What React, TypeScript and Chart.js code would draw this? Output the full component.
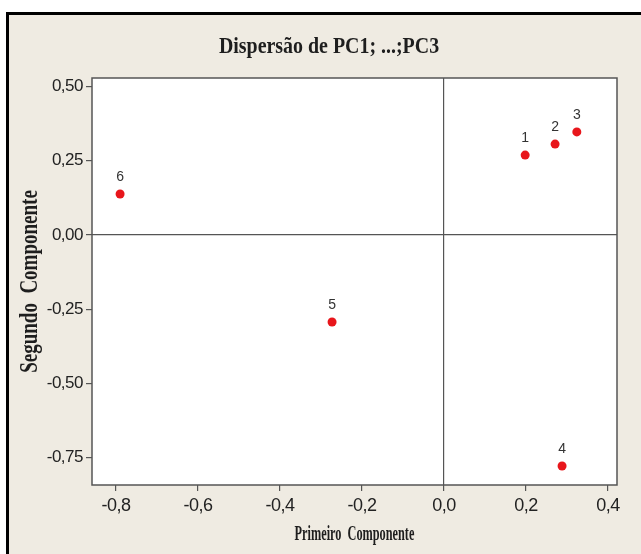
import { useEffect, useRef } from 'react';
import { Chart, registerables } from 'chart.js';

Chart.register(...registerables);

const pointLabels = ['1', '2', '3', '4', '5', '6'];
const primeiroComponente = [0.198, 0.271, 0.324, 0.288, -0.273, -0.79];
const segundoComponente = [0.269, 0.306, 0.347, -0.778, -0.293, 0.138];
const xTickValues = [-0.8, -0.6, -0.4, -0.2, 0, 0.2, 0.4];
const yTickValues = [0.5, 0.25, 0, -0.25, -0.5, -0.75];

const chartTitle = 'Dispersão de PC1; ...;PC3';
const xTitle = 'Primeiro  Componente';
const yTitle = 'Segundo  Componente';

const X_MIN = -0.8585;
const X_MAX = 0.422;
const Y_MIN = -0.8418;
const Y_MAX = 0.5286;

const SERIF = "'Liberation Serif', 'Times New Roman', serif";
const SANS = "'Liberation Sans Narrow', 'Liberation Sans', Arial, sans-serif";

function drawScaled(
  ctx: CanvasRenderingContext2D,
  text: string,
  x: number,
  y: number,
  font: string,
  sx: number,
  rot: number,
) {
  ctx.save();
  ctx.translate(x, y);
  if (rot) ctx.rotate(rot);
  ctx.scale(sx, 1);
  ctx.font = font;
  ctx.fillStyle = '#1e1e1e';
  ctx.textAlign = 'center';
  ctx.textBaseline = 'middle';
  ctx.fillText(text, 0, 0);
  ctx.restore();
}

const decor = {
  id: 'decor',
  beforeDraw(chart: any) {
    const { ctx, chartArea: a } = chart;
    ctx.save();
    ctx.fillStyle = '#ffffff';
    ctx.fillRect(a.left, a.top, a.right - a.left, a.bottom - a.top);
    ctx.restore();
    (ctx as any).letterSpacing = '-0.5px';
  },
  afterDatasetsDraw(chart: any) {
    const { ctx } = chart;
    const meta = chart.getDatasetMeta(0);
    ctx.save();
    (ctx as any).letterSpacing = '0px';
    ctx.font = `14px ${SANS}`;
    ctx.fillStyle = '#333333';
    ctx.textAlign = 'center';
    ctx.textBaseline = 'middle';
    meta.data.forEach((el: any, i: number) => {
      ctx.fillText(pointLabels[i], el.x, el.y - 17);
    });
    ctx.restore();
  },
  afterDraw(chart: any) {
    const { ctx, chartArea: a } = chart;
    (ctx as any).letterSpacing = '0px';
    ctx.save();
    ctx.strokeStyle = '#555555';
    ctx.lineWidth = 1.5;
    ctx.strokeRect(a.left, a.top, a.right - a.left, a.bottom - a.top);
    ctx.restore();
    drawScaled(ctx, chartTitle, 329, 47, `bold 24px ${SERIF}`, 0.83, 0);
    drawScaled(ctx, yTitle, 31, (a.top + a.bottom) / 2, `bold 25px ${SERIF}`, 0.76, -Math.PI / 2);
    drawScaled(ctx, xTitle, (a.left + a.right) / 2, 535, `bold 20px ${SERIF}`, 0.614, 0);
  },
};

const gridColor = (c: any) => (c.tick && c.tick.value === 0 ? '#555555' : 'rgba(0,0,0,0)');

export default function App() {
  const ref = useRef<HTMLCanvasElement | null>(null);
  useEffect(() => {
    if (!ref.current) return;
    const chart = new Chart(ref.current, {
      type: 'scatter',
      data: {
        datasets: [
          {
            data: primeiroComponente.map((x, i) => ({ x, y: segundoComponente[i] })),
            backgroundColor: '#e8161b',
            borderColor: '#e8161b',
            borderWidth: 0,
            pointRadius: 4.5,
            pointHoverRadius: 4.5,
          },
        ],
      },
      options: {
        responsive: false,
        animation: false,
        events: [],
        layout: { padding: { left: 0, right: 24, top: 78, bottom: 0 } },
        plugins: {
          legend: { display: false },
          tooltip: { enabled: false },
          title: { display: false },
        },
        scales: {
          x: {
            type: 'linear',
            min: X_MIN,
            max: X_MAX,
            afterBuildTicks: (s: any) => {
              s.ticks = xTickValues.map((v) => ({ value: v }));
            },
            afterFit: (s: any) => {
              s.height = 69;
            },
            ticks: {
              color: '#222222',
              font: { family: SANS, size: 18 },
              padding: 4,
              maxRotation: 0,
              autoSkip: false,
              callback: (v: any) => Number(v).toFixed(1).replace('.', ','),
            },
            grid: { color: gridColor, tickColor: '#555555', tickLength: 6, lineWidth: 1.2 },
            border: { display: false },
          },
          y: {
            type: 'linear',
            min: Y_MIN,
            max: Y_MAX,
            afterBuildTicks: (s: any) => {
              s.ticks = yTickValues.map((v) => ({ value: v }));
            },
            afterFit: (s: any) => {
              s.width = 92;
            },
            ticks: {
              color: '#222222',
              font: { family: SANS, size: 17 },
              padding: 3,
              autoSkip: false,
              callback: (v: any) => Number(v).toFixed(2).replace('.', ','),
            },
            grid: { color: gridColor, tickColor: '#555555', tickLength: 6, lineWidth: 1.2 },
            border: { display: false },
          },
        },
      },
      plugins: [decor],
    });
    return () => chart.destroy();
  }, []);

  return (
    <div style={{ position: 'fixed', left: 0, top: 0, width: 641, height: 554, background: '#ffffff' }}>
      <div
        style={{
          position: 'absolute',
          left: 6,
          top: 12,
          right: 0,
          bottom: 0,
          borderLeft: '3px solid #000',
          borderTop: '3px solid #000',
          background: '#efebe2',
        }}
      />
      <canvas ref={ref} width={641} height={554} style={{ position: 'absolute', left: 0, top: 0 }} />
    </div>
  );
}
